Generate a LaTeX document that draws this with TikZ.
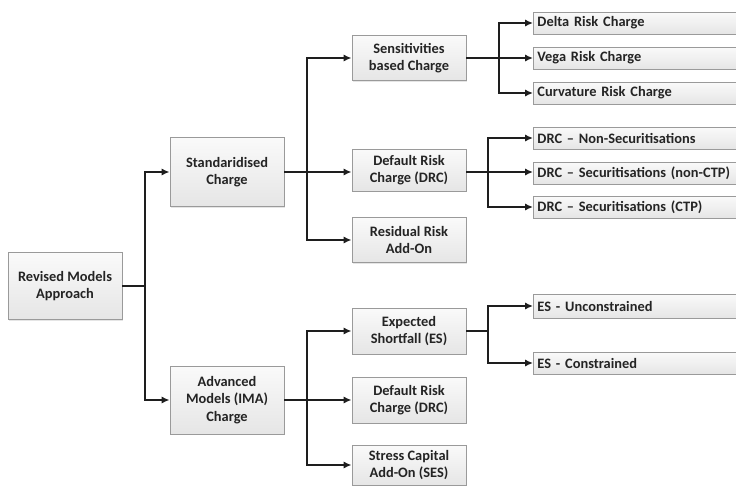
\documentclass[tikz,border=0pt]{standalone}
\usepackage{fontspec}
\setmainfont{Carlito}
\usetikzlibrary{arrows.meta,shadows,calc}
\definecolor{boxline}{HTML}{9A9A9A}
\definecolor{txt}{HTML}{242424}
\definecolor{conn}{HTML}{1E1E1E}
\tikzset{
  box/.style={draw=boxline, line width=0.7pt, top color=black!2, bottom color=black!10,
    drop shadow={opacity=0.2, shadow xshift=1pt, shadow yshift=-1pt},
    font=\bfseries\fontsize{10.8}{13}\selectfont, text=txt, align=center,
    minimum width=85.5pt, inner sep=1pt},
  leaf/.style={draw=boxline, line width=0.7pt, top color=black!2, bottom color=black!10,
    drop shadow={opacity=0.2, shadow xshift=1pt, shadow yshift=-1pt},
    font=\bfseries\fontsize{10.8}{12}\selectfont, text=txt, anchor=west,
    text width=153pt, inner xsep=3pt, inner ysep=0pt, minimum height=16.5pt, align=left},
  link/.style={draw=conn, line width=1.4pt},
  arr/.style={link, -{Latex[length=6pt,width=5.5pt]}}
}
\begin{document}
\begin{tikzpicture}[x=0.75pt,y=-0.75pt]
\useasboundingbox (0,0) rectangle (736,490);
\clip (0,0) rectangle (736,490);
\fill[white] (0,0) rectangle (736,490);
% nodes
\node[box, minimum height=50pt] (root) at (65,286) {Revised Models\\Approach};
\node[box, minimum height=51.75pt] (std) at (227,172) {Standaridised\\Charge};
\node[box, minimum height=51pt] (adv) at (227,400) {Advanced\\Models (IMA)\\Charge};
\node[box, minimum height=33.75pt] (sens) at (409,58) {Sensitivities\\based Charge};
\node[box, minimum height=31.5pt] (drc) at (409,170) {Default Risk\\Charge (DRC)};
\node[box, minimum height=33.75pt] (res) at (409,240) {Residual Risk\\Add-On};
\node[box, minimum height=34.5pt] (es) at (409,331) {Expected\\Shortfall (ES)};
\node[box, minimum height=34.5pt] (drc2) at (409,400) {Default Risk\\Charge (DRC)};
\node[box, minimum height=30pt] (ses) at (409,465) {Stress Capital\\Add-On (SES)};
% leaves
\node[leaf] (delta) at (533,23) {Delta Risk Charge};
\node[leaf] (vega) at (533,58) {Vega Risk Charge};
\node[leaf] (curv) at (533,93) {Curvature Risk Charge};
\node[leaf] (ns) at (533,138) {DRC -- Non-Securitisations};
\node[leaf] (nctp) at (533,173) {DRC -- Securitisations (non-CTP)};
\node[leaf] (ctp) at (533,207) {DRC -- Securitisations (CTP)};
\node[leaf, minimum height=18pt] (unc) at (533,306) {ES - Unconstrained};
\node[leaf] (con) at (533,363) {ES - Constrained};
% coordinates of buses
\coordinate (b1) at (145,286);
\coordinate (b2s) at (307,172);
\coordinate (b2a) at (307,400);
\coordinate (b3s) at (499,58);
\coordinate (b3d) at (488,172);
\coordinate (b3e) at (488,331);
% connectors
\draw[link] (root.east) -- (b1);
\draw[arr] (b1) |- (std.west);
\draw[arr] (b1) |- (adv.west);
\draw[arr] (std.east) -- (std.east -| drc.west);
\draw[arr] (b2s) |- (sens.west);
\draw[arr] (b2s) |- (res.west);
\draw[arr] (adv.east) -- (drc2.west);
\draw[arr] (b2a) |- (es.west);
\draw[arr] (b2a) |- (ses.west);
\draw[arr] (sens.east) -- (vega.west);
\draw[arr] (b3s) |- (delta.west);
\draw[arr] (b3s) |- (curv.west);
\draw[arr] (drc.east |- b3d) -- (nctp.west |- b3d);
\draw[arr] (b3d) |- (ns.west);
\draw[arr] (b3d) |- (ctp.west);
\draw[link] (es.east) -- (b3e);
\draw[arr] (b3e) |- (unc.west);
\draw[arr] (b3e) |- (con.west);
\end{tikzpicture}
\end{document}
